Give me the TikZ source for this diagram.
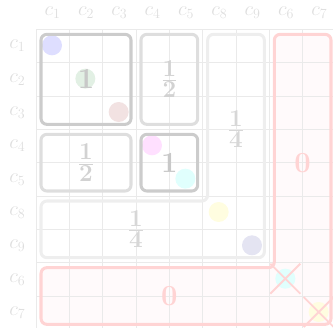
\documentclass[tikz,border=0pt]{standalone}
\definecolor{gridc}{RGB}{234,234,234}
\definecolor{labc}{RGB}{222,222,222}
\definecolor{darkbox}{RGB}{204,204,204}
\definecolor{midbox}{RGB}{222,222,222}
\definecolor{lightbox}{RGB}{238,238,238}
\definecolor{darktxt}{RGB}{200,200,200}
\definecolor{midtxt}{RGB}{210,210,210}
\definecolor{lighttxt}{RGB}{215,215,215}
\definecolor{pinkline}{RGB}{255,212,212}
\definecolor{pinkfill}{RGB}{255,250,251}
\definecolor{pinktxt}{RGB}{255,212,212}
\definecolor{cblue}{RGB}{222,222,255}
\definecolor{cgreen}{RGB}{226,240,228}
\definecolor{cbrown}{RGB}{242,226,226}
\definecolor{cmag}{RGB}{255,224,255}
\definecolor{ccyan}{RGB}{224,255,253}
\definecolor{cyellow}{RGB}{255,253,224}
\definecolor{cpurp}{RGB}{228,228,242}
\tikzset{
  lab/.style={text=labc, font=\fontsize{18}{20}\selectfont, inner sep=0pt},
  bignum/.style={font=\fontsize{31}{34}\selectfont, inner sep=0pt},
  boxline/.style={line width=2.6pt, rounded corners=5pt},
  dot/.style={circle, minimum size=0.6cm, inner sep=0pt},
  cross/.style={draw=pinkline, line width=1.6pt}
}
\begin{document}
\begin{tikzpicture}[x=1cm,y=1cm]
\useasboundingbox (-1.08,0.88) rectangle (8.91,-8.93);
% pink fill
\fill[pinkfill, rounded corners=5pt] (0.15,-7.15) -- (7.15,-7.15) -- (7.15,-0.15) -- (8.85,-0.15) -- (8.85,-8.85) -- (0.15,-8.85) -- cycle;
% grid
\draw[gridc, line width=0.8pt] (0,0) grid (9,-9);
% labels
\foreach \n [count=\i from 0] in {1,2,3,4,5,8,9,6,7}{
  \node[lab] (col\n) at (\i+0.5,0.5) {$c_{\n}$};
  \node[lab] (row\n) at (-0.56,-\i-0.5) {$c_{\n}$};
}
% circles
\node[dot, fill=cblue] (d1) at (0.48,-0.48) {};
\node[dot, fill=cgreen] (d2) at (1.48,-1.48) {};
\node[dot, fill=cbrown] (d3) at (2.48,-2.48) {};
\node[dot, fill=cmag] (d4) at (3.48,-3.48) {};
\node[dot, fill=ccyan] (d5) at (4.48,-4.48) {};
\node[dot, fill=cyellow] (d8) at (5.48,-5.48) {};
\node[dot, fill=cpurp] (d9) at (6.48,-6.48) {};
\node[dot, fill=ccyan] (d6) at (7.48,-7.48) {};
\node[dot, fill=cyellow] (d7) at (8.48,-8.48) {};
% box outlines
\draw[boxline, draw=lightbox] (0.15,-5.15) -- (5.15,-5.15) -- (5.15,-0.15) -- (6.85,-0.15) -- (6.85,-6.85) -- (0.15,-6.85) -- cycle;
\draw[boxline, draw=pinkline] (0.15,-7.15) -- (7.15,-7.15) -- (7.15,-0.15) -- (8.85,-0.15) -- (8.85,-8.85) -- (0.15,-8.85) -- cycle;
\draw[boxline, draw=darkbox] (0.15,-0.15) rectangle (2.85,-2.85);
\draw[boxline, draw=midbox] (3.15,-0.15) rectangle (4.85,-2.85);
\draw[boxline, draw=midbox] (0.15,-3.15) rectangle (2.85,-4.85);
\draw[boxline, draw=darkbox] (3.15,-3.15) rectangle (4.85,-4.85);
% crosses
\draw[cross] (d6.center) ++(-0.45,-0.45) -- ++(0.9,0.9);
\draw[cross] (d6.center) ++(-0.45,0.45) -- ++(0.9,-0.9);
\draw[cross] (d7.center) ++(-0.45,-0.45) -- ++(0.9,0.9);
\draw[cross] (d7.center) ++(-0.45,0.45) -- ++(0.9,-0.9);
% numbers
\node[bignum, text=darktxt] (n1) at (1.5,-1.5) {$\mathbf{1}$};
\node[bignum, text=midtxt] (n2) at (4,-1.5) {$\mathbf{\frac{1}{2}}$};
\node[bignum, text=midtxt] (n3) at (1.5,-4) {$\mathbf{\frac{1}{2}}$};
\node[bignum, text=darktxt] (n4) at (4,-4) {$\mathbf{1}$};
\node[bignum, text=lighttxt] (n5) at (6,-3) {$\mathbf{\frac{1}{4}}$};
\node[bignum, text=lighttxt] (n6) at (3,-6) {$\mathbf{\frac{1}{4}}$};
\node[bignum, text=pinktxt] (n7) at (8,-4) {$\mathbf{0}$};
\node[bignum, text=pinktxt] (n8) at (4,-8) {$\mathbf{0}$};
\end{tikzpicture}
\end{document}
